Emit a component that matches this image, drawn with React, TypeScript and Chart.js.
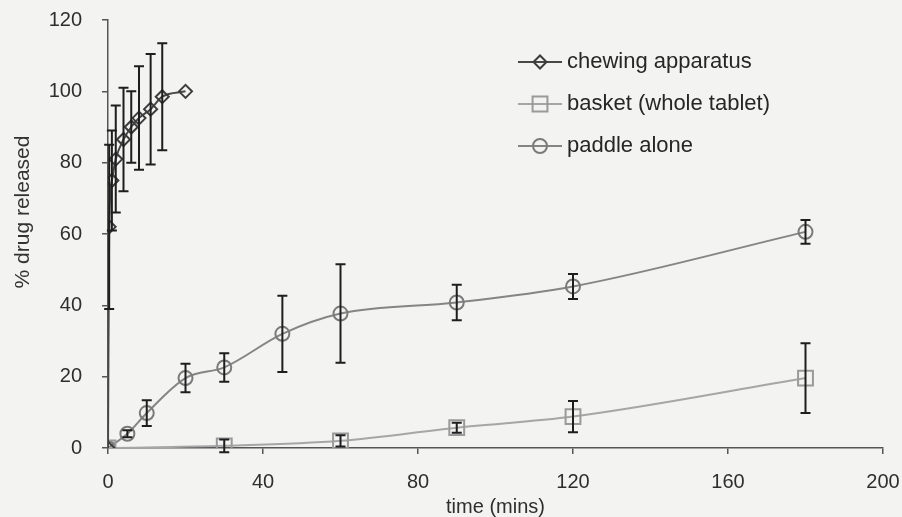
import React, { useEffect, useRef } from "react";
import { Chart, registerables } from "chart.js";

Chart.register(...registerables);

// ---- data ----
const chewTime = [0, 0.3, 1, 2, 4, 6, 8, 11, 14, 20];
const chewValue = [0, 62, 75, 81, 86.5, 90, 92.5, 95, 98.5, 100];
const chewErr = [0, 23, 14, 15, 14.5, 10, 14.5, 15.5, 15, 0];

const basketTime = [0, 30, 60, 90, 120, 180];
const basketValue = [0, 0.6, 2, 5.7, 8.8, 19.6];
const basketErr = [0, 1.8, 1.6, 1.4, 4.4, 9.8];

const paddleTime = [0, 5, 10, 20, 30, 45, 60, 90, 120, 180];
const paddleValue = [0, 4, 9.8, 19.6, 22.6, 32, 37.7, 40.8, 45.3, 60.6];
const paddleErr = [0, 1, 3.6, 4, 4, 10.7, 13.8, 5, 3.5, 3.3];

const seriesLabels = ["chewing apparatus", "basket (whole tablet)", "paddle alone"];
const xTicksStep = 40;
const yTicksStep = 20;
const xTitle = "time (mins)";
const yTitle = "% drug released";

const FONT = "'Liberation Sans', Arial, sans-serif";

const toPts = (xs: number[], ys: number[]) => xs.map((x, i) => ({ x, y: ys[i] }));

const bgPlugin = {
  id: "bg",
  beforeDraw(chart: any) {
    const { ctx, width, height } = chart;
    ctx.save();
    ctx.fillStyle = "#f3f3f2";
    ctx.fillRect(0, 0, width, height);
    ctx.restore();
  },
};

const errorBarPlugin = {
  id: "errorBars",
  afterDatasetsDraw(chart: any) {
    const { ctx } = chart;
    const xs = chart.scales.x;
    const ys = chart.scales.y;
    ctx.save();
    ctx.strokeStyle = "#1e1e1e";
    ctx.lineWidth = 2;
    chart.data.datasets.forEach((ds: any) => {
      const errs: number[] = ds.errors || [];
      ds.data.forEach((p: any, j: number) => {
        const e = errs[j];
        if (!e) return;
        const px = xs.getPixelForValue(p.x);
        const top = ys.getPixelForValue(p.y + e);
        const bot = ys.getPixelForValue(p.y - e);
        ctx.beginPath();
        ctx.moveTo(px, top);
        ctx.lineTo(px, bot);
        ctx.moveTo(px - 5, top);
        ctx.lineTo(px + 5, top);
        ctx.moveTo(px - 5, bot);
        ctx.lineTo(px + 5, bot);
        ctx.stroke();
      });
    });
    ctx.restore();
  },
};

function drawMarker(ctx: CanvasRenderingContext2D, style: string, x: number, y: number, r: number) {
  ctx.beginPath();
  if (style === "circle") {
    ctx.arc(x, y, r, 0, Math.PI * 2);
  } else if (style === "rect") {
    const s = r * Math.SQRT1_2;
    ctx.rect(x - s, y - s, 2 * s, 2 * s);
  } else {
    ctx.moveTo(x - r, y);
    ctx.lineTo(x, y - r);
    ctx.lineTo(x + r, y);
    ctx.lineTo(x, y + r);
    ctx.closePath();
  }
  ctx.stroke();
}

const legendAndTitlePlugin = {
  id: "legendTitle",
  afterDraw(chart: any) {
    const { ctx } = chart;
    ctx.save();
    // y axis title
    ctx.translate(23, 212);
    ctx.rotate(-Math.PI / 2);
    ctx.fillStyle = "#333";
    ctx.font = `21px ${FONT}`;
    ctx.textAlign = "center";
    ctx.textBaseline = "middle";
    ctx.fillText(yTitle, 0, 0);
    ctx.restore();

    ctx.save();
    const rowsY = [62, 104, 146];
    chart.data.datasets.forEach((ds: any, i: number) => {
      const y = rowsY[i];
      ctx.strokeStyle = ds.borderColor;
      ctx.lineWidth = 2;
      ctx.beginPath();
      ctx.moveTo(518, y);
      ctx.lineTo(562, y);
      ctx.stroke();
      ctx.strokeStyle = ds.pointBorderColor;
      ctx.lineWidth = 2;
      drawMarker(ctx, ds.pointStyle, 540, y, ds.pointRadius);
      ctx.fillStyle = "#262626";
      ctx.font = `22px ${FONT}`;
      ctx.textAlign = "left";
      ctx.textBaseline = "middle";
      ctx.fillText(ds.label, 567, y);
    });
    ctx.restore();
  },
};

export default function App() {
  const ref = useRef<HTMLCanvasElement | null>(null);

  useEffect(() => {
    if (!ref.current) return;
    const chart = new Chart(ref.current, {
      type: "line",
      data: {
        datasets: [
          {
            label: seriesLabels[0],
            data: toPts(chewTime, chewValue),
            errors: chewErr,
            borderColor: "#474747",
            pointBorderColor: "#3c3c3c",
            pointBackgroundColor: "rgba(0,0,0,0)",
            pointStyle: "rectRot",
            pointRadius: 6.5,
            pointBorderWidth: 2,
            borderWidth: 2,
            cubicInterpolationMode: "monotone",
          } as any,
          {
            label: seriesLabels[1],
            data: toPts(basketTime, basketValue),
            errors: basketErr,
            borderColor: "#a6a6a6",
            pointBorderColor: "#9a9a9a",
            pointBackgroundColor: "rgba(0,0,0,0)",
            pointStyle: "rect",
            pointRadius: 10.5,
            pointBorderWidth: 2,
            borderWidth: 2,
            cubicInterpolationMode: "monotone",
          } as any,
          {
            label: seriesLabels[2],
            data: toPts(paddleTime, paddleValue),
            errors: paddleErr,
            borderColor: "#858585",
            pointBorderColor: "#7a7a7a",
            pointBackgroundColor: "rgba(0,0,0,0)",
            pointStyle: "circle",
            pointRadius: 7,
            pointBorderWidth: 2,
            borderWidth: 2,
            cubicInterpolationMode: "monotone",
          } as any,
        ],
      },
      options: {
        animation: false,
        responsive: true,
        maintainAspectRatio: false,
        layout: { padding: { top: 20, right: 19, left: 0, bottom: 0 } },
        plugins: {
          legend: { display: false },
          tooltip: { enabled: false },
        },
        scales: {
          x: {
            type: "linear",
            min: 0,
            max: 200,
            ticks: {
              stepSize: xTicksStep,
              font: { family: FONT, size: 20 },
              color: "#2e2e2e",
              padding: 16,
              maxRotation: 0,
            },
            grid: { drawOnChartArea: false, drawTicks: true, tickLength: 6, color: "#555", lineWidth: 1.5 },
            border: { display: true, color: "#555", width: 1.5 },
            title: {
              display: true,
              text: xTitle,
              font: { family: FONT, size: 20 },
              color: "#2e2e2e",
              padding: { top: 0, bottom: -2 },
            },
            afterFit: (s: any) => {
              s.height = 69;
              s.paddingLeft = 0;
              s.paddingRight = 0;
            },
          },
          y: {
            type: "linear",
            min: 0,
            max: 120,
            ticks: {
              stepSize: yTicksStep,
              font: { family: FONT, size: 20 },
              color: "#2e2e2e",
              padding: 20,
            },
            grid: { drawOnChartArea: false, drawTicks: true, tickLength: 6, color: "#555", lineWidth: 1.5 },
            border: { display: true, color: "#555", width: 1.5 },
            afterFit: (s: any) => {
              s.width = 108;
              s.paddingTop = 0;
              s.paddingBottom = 0;
            },
          },
        },
      } as any,
      plugins: [bgPlugin, errorBarPlugin, legendAndTitlePlugin],
    });
    return () => chart.destroy();
  }, []);

  return (
    <div style={{ position: "fixed", left: 0, top: 0, width: 902, height: 517 }}>
      <canvas ref={ref} />
    </div>
  );
}
